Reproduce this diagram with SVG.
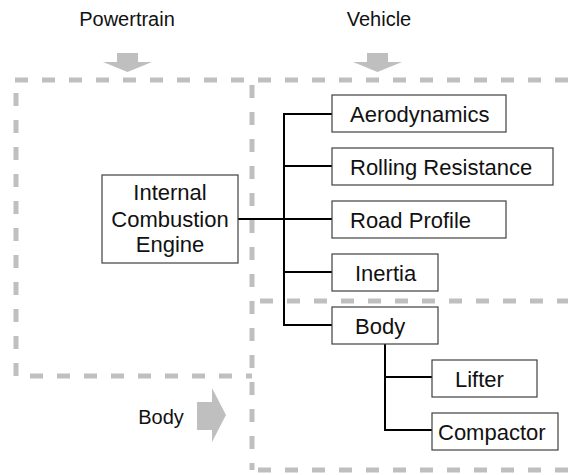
<svg xmlns="http://www.w3.org/2000/svg" width="568" height="475" viewBox="0 0 568 475">
<style>
.dash{fill:none;stroke:#bfbfbf;stroke-width:5;stroke-dasharray:13 14}
.box{fill:#fff;stroke:#404040;stroke-width:1.2}
.t{font-family:"Liberation Sans",Arial,sans-serif;font-size:22px;fill:#111}
.lbl{font-family:"Liberation Sans",Arial,sans-serif;font-size:20px;fill:#111}
.arr{fill:#bfbfbf}
.c{fill:none;stroke:#000;stroke-width:2}
</style>
<rect width="568" height="475" fill="#fff"/>
<g id="regions">
<line class="dash" x1="15" y1="80" x2="568" y2="80"/>
<line class="dash" x1="16" y1="93" x2="16" y2="376"/>
<line class="dash" x1="30" y1="376" x2="252" y2="376"/>
<line class="dash" x1="252" y1="85" x2="252" y2="470"/>
<line class="dash" x1="260" y1="301" x2="568" y2="301"/>
<line class="dash" x1="258" y1="470" x2="568" y2="470"/>
</g>
<g id="labels">
<text class="lbl" x="127" y="26" text-anchor="middle">Powertrain</text>
<text class="lbl" x="379" y="26" text-anchor="middle">Vehicle</text>
<text class="lbl" x="161" y="424" text-anchor="middle">Body</text>
<polygon class="arr" points="117,53 138,53 138,62 152,62 127.5,72 103,62 117,62"/>
<polygon class="arr" points="367,53 388,53 388,62 402,62 377.5,72 353,62 367,62"/>
<polygon class="arr" points="197,402 212,402 212,388 226,415 212,442 212,430 197,430"/>
</g>
<g id="connectors">
<line class="c" x1="238" y1="219" x2="284" y2="219"/>
<line class="c" x1="284" y1="114" x2="284" y2="325"/>
<line class="c" x1="283" y1="114" x2="332" y2="114"/>
<line class="c" x1="284" y1="166" x2="332" y2="166"/>
<line class="c" x1="284" y1="219" x2="332" y2="219"/>
<line class="c" x1="284" y1="272" x2="332" y2="272"/>
<line class="c" x1="283" y1="325" x2="332" y2="325"/>
<line class="c" x1="385" y1="343" x2="385" y2="430"/>
<line class="c" x1="385" y1="377" x2="432" y2="377"/>
<line class="c" x1="384" y1="430" x2="432" y2="430"/>
</g>
<g id="engine">
<rect class="box" x="102" y="175" width="136" height="88"/>
<text class="t" x="170" y="200" text-anchor="middle">Internal</text>
<text class="t" x="170" y="227" text-anchor="middle">Combustion</text>
<text class="t" x="170" y="252" text-anchor="middle">Engine</text>
</g>
<g id="aerodynamics">
<rect class="box" x="332" y="95" width="174" height="37"/>
<text class="t" x="350" y="122">Aerodynamics</text>
</g>
<g id="rolling-resistance">
<rect class="box" x="332" y="148" width="221" height="37"/>
<text class="t" x="350" y="175">Rolling Resistance</text>
</g>
<g id="road-profile">
<rect class="box" x="332" y="201" width="174" height="37"/>
<text class="t" x="350" y="228">Road Profile</text>
</g>
<g id="inertia">
<rect class="box" x="332" y="254" width="106" height="37"/>
<text class="t" x="355" y="281">Inertia</text>
</g>
<g id="body">
<rect class="box" x="332" y="307" width="106" height="37"/>
<text class="t" x="355" y="334">Body</text>
</g>
<g id="lifter">
<rect class="box" x="432" y="360" width="105" height="37"/>
<text class="t" x="455" y="387">Lifter</text>
</g>
<g id="compactor">
<rect class="box" x="432" y="413" width="126" height="37"/>
<text class="t" x="438" y="440">Compactor</text>
</g>
</svg>
